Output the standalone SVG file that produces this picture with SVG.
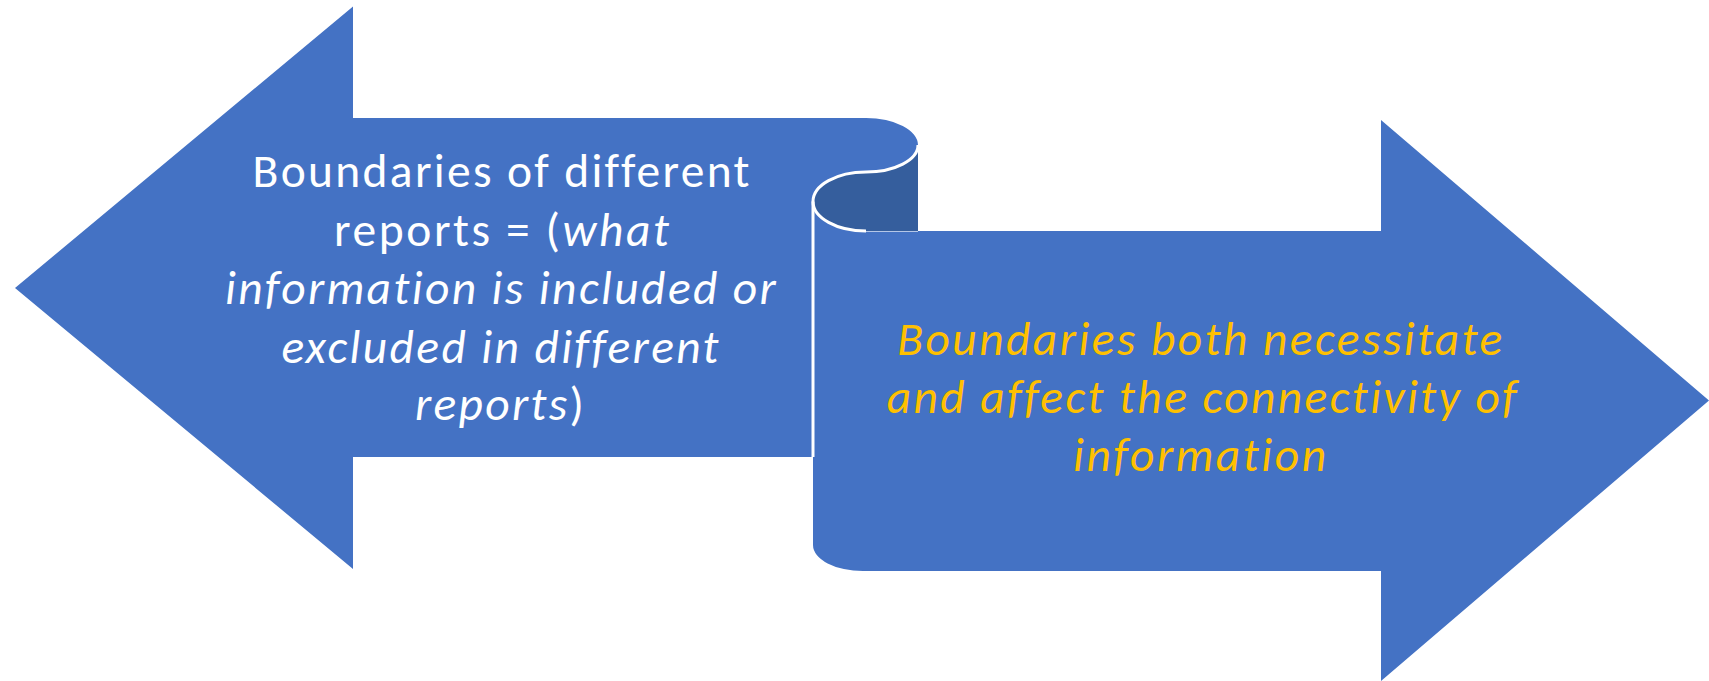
<svg xmlns="http://www.w3.org/2000/svg" width="1709" height="681" viewBox="0 0 1709 681">
<style>
.blue{fill:#4472C4;}
.dark{fill:#355E9D;}
.edge{fill:none;stroke:#FFFFFF;stroke-width:3;}
.t{font-family:Carlito,Calibri,Lato,"Liberation Sans",sans-serif;font-size:47.5px;text-anchor:middle;font-variant-ligatures:none;}
.w{fill:#FFFFFF;}
.y{fill:#FFC000;font-style:italic;}
.i{font-style:italic;}
</style>
<rect x="0" y="0" width="1709" height="681" fill="#FFFFFF"/>
<g id="scroll-back">
<path class="dark" d="M918,145 A52,27 0 0 1 866,172 A53,29.5 0 0 0 813,201.5 A53,29.5 0 0 0 866,231 L918,231 Z"/>
</g>
<g id="left-arrow">
<path class="blue" d="M15,288 L353,6.5 L353,118 L866,118 A52,27 0 0 1 918,145 A52,27 0 0 1 866,172 A53,29.5 0 0 0 813,201.5 L813,457 L353,457 L353,569 Z"/>
<text class="t w" x="501" y="186.7" textLength="497">Boundaries of different</text>
<text class="t w" x="501.5" y="245.7" textLength="335">reports = (<tspan class="i">what</tspan></text>
<text class="t w i" x="500.4" y="304.3" textLength="551">information is included or</text>
<text class="t w i" x="500" y="362.7" textLength="437">excluded in different</text>
<text class="t w" x="499.5" y="420" textLength="169"><tspan class="i">reports</tspan>)</text>
</g>
<g id="right-arrow">
<path class="blue" d="M813,201.5 A53,29.5 0 0 0 866,231 L1381,231 L1381,120 L1709,400.5 L1381,681 L1381,571 L863,571 A50,26 0 0 1 813,545 Z"/>
<text class="t y" x="1199.7" y="355" textLength="605">Boundaries both necessitate</text>
<text class="t y" x="1201.7" y="412.7" textLength="630">and affect the connectivity of</text>
<text class="t y" x="1199.6" y="470.7" textLength="253">information</text>
</g>
<g id="connectors">
<path class="edge" d="M918,145 A52,27 0 0 1 866,172 A53,29.5 0 0 0 813,201.5 A53,29.5 0 0 0 866,231"/>
<path class="edge" d="M813,201.5 L813,457" stroke-width="2"/>
<path d="M866,231.5 L918,231.5" stroke="#FFFFFF" stroke-opacity="0.6" stroke-width="1.2" fill="none"/>
</g>
</svg>
